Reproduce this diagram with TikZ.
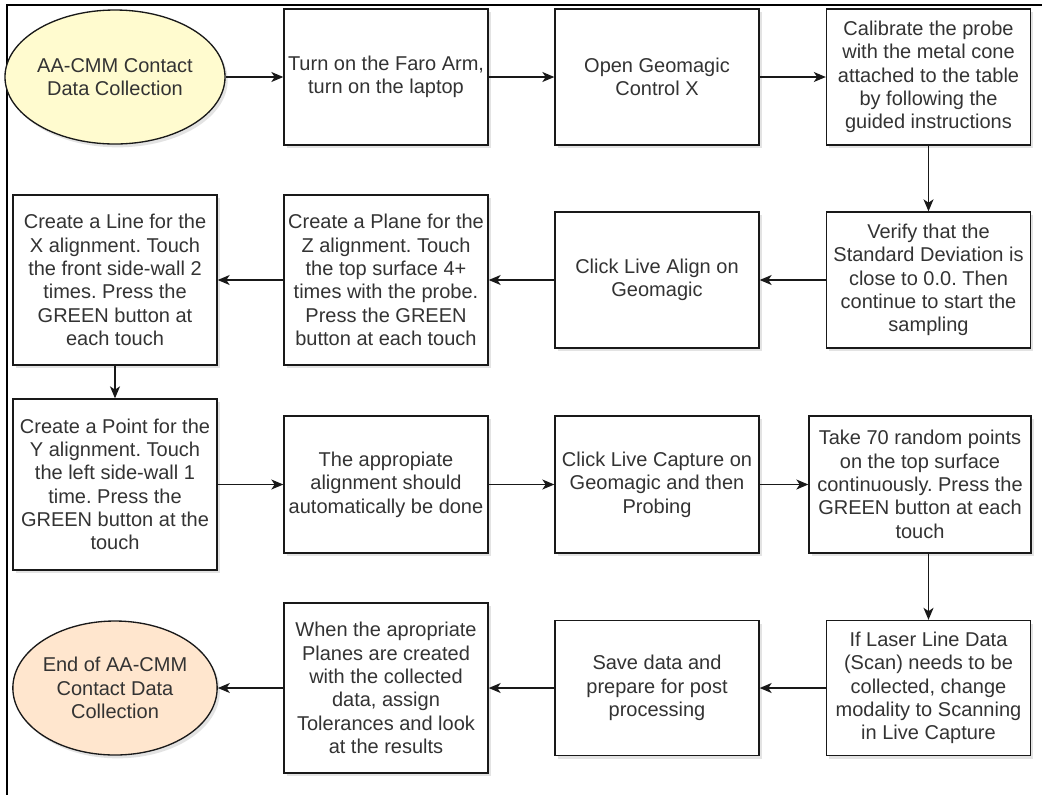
\documentclass[tikz,border=0pt]{standalone}
\usepackage{fontspec}
\setmainfont{Liberation Sans}
\usetikzlibrary{shapes.geometric,arrows.meta,shadows}
\frenchspacing
\definecolor{txt}{HTML}{333333}
\definecolor{startfill}{HTML}{FFFBCF}
\definecolor{endfill}{HTML}{FFE6CE}
\tikzset{
  base/.style={draw=black!90, line width=1pt, text=txt, align=center, inner sep=0pt,
    font=\fontsize{15pt}{17.5pt}\selectfont,
    drop shadow={shadow xshift=2pt, shadow yshift=-2.5pt, opacity=0.18, fill=black!60}},
  stepbox/.style={base, rectangle, fill=white, minimum width=153pt},
  oval/.style={base, ellipse, minimum width=153pt, minimum height=100.5pt},
  flow/.style={draw=black!90, line width=1pt, -{Stealth[length=9pt,width=7.5pt,inset=2.5pt]}},
  frameline/.style={draw=black, line width=2.2pt}
}
\begin{document}
\begin{tikzpicture}[x=0.75pt,y=-0.75pt]
\useasboundingbox (0,0) rectangle (1042,794);
\draw[frameline] (7,796) -- (7,5) -- (1044,5);

% row 1
\node[oval, fill=startfill] (start) at (115,77) {AA-CMM Contact\\Data Collection};
\node[stepbox, minimum height=102pt] (turnon) at (386,77) {Turn on the Faro Arm,\\turn on the laptop};
\node[stepbox, minimum height=102pt] (open) at (657,77) {Open Geomagic\\Control X};
\node[stepbox, minimum height=102pt] (calib) at (928.5,77) {Calibrate the probe\\with the metal cone\\attached to the table\\by following the\\guided instructions};

% row 2
\node[stepbox, minimum height=102pt] (verify) at (928.5,280) {Verify that the\\Standard Deviation is\\close to 0.0. Then\\continue to start the\\sampling};
\node[stepbox, minimum height=102pt] (align) at (657,280) {Click Live Align on\\Geomagic};
\node[stepbox, minimum height=127.5pt] (plane) at (386,280) {Create a Plane for the\\Z alignment. Touch\\the top surface 4+\\times with the probe.\\Press the GREEN\\button at each touch};
\node[stepbox, minimum height=127.5pt] (line) at (115,280) {Create a Line for the\\X alignment. Touch\\the front side-wall 2\\times. Press the\\GREEN button at\\each touch};

% row 3
\node[stepbox, minimum height=128.25pt] (point) at (115,484.5) {Create a Point for the\\Y alignment. Touch\\the left side-wall 1\\time. Press the\\GREEN button at the\\touch};
\node[stepbox, minimum height=102.75pt] (auto) at (386,484.5) {The appropiate\\alignment should\\automatically be done};
\node[stepbox, minimum height=102.75pt] (capture) at (657,484.5) {Click Live Capture on\\Geomagic and then\\Probing};
\node[stepbox, minimum height=102.75pt, minimum width=166.5pt] (take) at (920,484.5) {Take 70 random points\\on the top surface\\continuously. Press the\\GREEN button at each\\touch};

% row 4
\node[stepbox, minimum height=101.25pt] (laser) at (928.5,688) {If Laser Line Data\\(Scan) needs to be\\collected, change\\modality to Scanning\\in Live Capture};
\node[stepbox, minimum height=101.25pt] (save) at (657,688) {Save data and\\prepare for post\\processing};
\node[stepbox, minimum height=127.5pt] (when) at (386,688) {When the apropriate\\Planes are created\\with the collected\\data, assign\\Tolerances and look\\at the results};
\node[oval, fill=endfill] (end) at (115,688) {End of AA-CMM\\Contact Data\\Collection};

% connectors
\draw[flow] (start) -- (turnon);
\draw[flow] (turnon) -- (open);
\draw[flow] (open) -- (calib);
\draw[flow] (calib) -- (verify);
\draw[flow] (verify) -- (align);
\draw[flow] (align) -- (plane);
\draw[flow] (plane) -- (line);
\draw[flow] (line) -- (point);
\draw[flow] (point) -- (auto);
\draw[flow] (auto) -- (capture);
\draw[flow] (capture) -- (take);
\draw[flow] (take.south -| laser.north) -- (laser.north);
\draw[flow] (laser) -- (save);
\draw[flow] (save) -- (when);
\draw[flow] (when) -- (end);
\end{tikzpicture}
\end{document}
